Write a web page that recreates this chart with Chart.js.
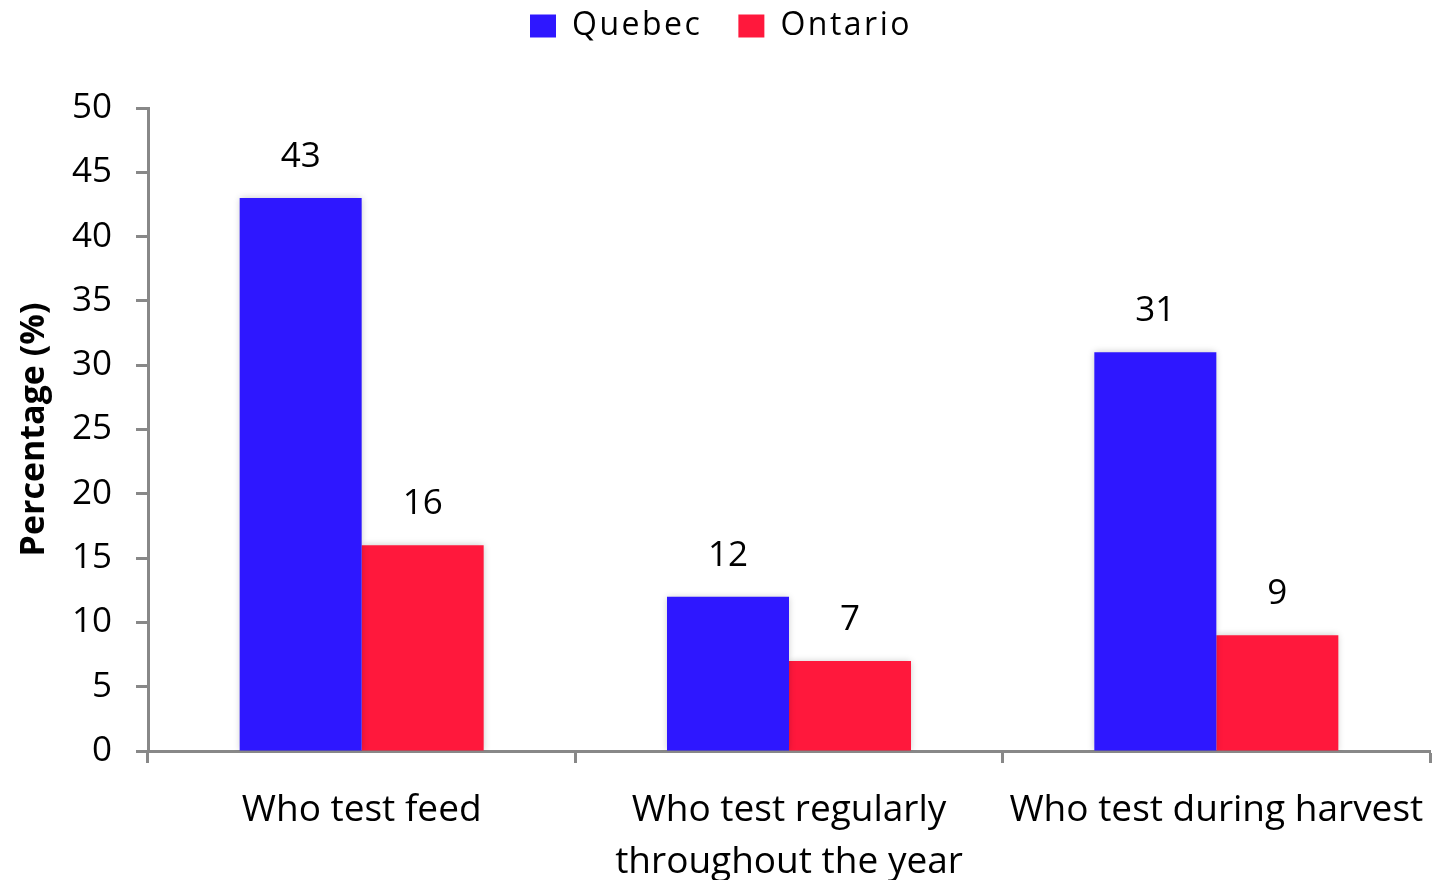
<!DOCTYPE html>
<html>
<head>
<meta charset="utf-8">
<script src="https://cdn.jsdelivr.net/npm/chart.js@4.4.0/dist/chart.umd.min.js"></script>
<style>
  html, body { margin: 0; padding: 0; background: #fff; }
  #wrap { width: 1435px; height: 880px; position: relative; }
</style>
</head>
<body>
<div id="wrap"><canvas id="c"></canvas></div>
<script>
const categories = [
  ["Who test feed"],
  ["Who test regularly", "throughout the year"],
  ["Who test during harvest"]
];
const quebecValues = [43, 12, 31];
const ontarioValues = [16, 7, 9];
const seriesNames = ["Quebec", "Ontario"];
const yTicks = [0, 5, 10, 15, 20, 25, 30, 35, 40, 45, 50];

const FONT = "'Open Sans', 'Liberation Sans', sans-serif";
const BLUE = '#2E17FF';
const RED = '#FF183C';
const AXIS = '#888888';

const shadowPlugin = {
  id: 'barShadow',
  beforeDatasetsDraw(chart) {
    const ctx = chart.ctx;
    ctx.save();
    ctx.shadowColor = 'rgba(0,0,0,0.22)';
    ctx.shadowBlur = 7;
    ctx.shadowOffsetX = 0;
    ctx.shadowOffsetY = 0;
  },
  afterDatasetsDraw(chart) {
    chart.ctx.restore();
  }
};

const valueLabels = {
  id: 'valueLabels',
  afterDraw(chart) {
    const ctx = chart.ctx;
    ctx.save();
    ctx.font = "35px " + FONT;
    ctx.fillStyle = '#000';
    ctx.textAlign = 'center';
    ctx.textBaseline = 'middle';
    chart.data.datasets.forEach((ds, i) => {
      const meta = chart.getDatasetMeta(i);
      meta.data.forEach((bar, j) => {
        ctx.fillText(String(ds.data[j]), bar.x, bar.y - 41);
      });
    });
    ctx.restore();
  }
};

const LEGEND_PAD = 36;

const chart = new Chart(document.getElementById('c'), {
  type: 'bar',
  data: {
    labels: categories,
    datasets: [
      { label: seriesNames[0], data: quebecValues, backgroundColor: BLUE, borderWidth: 0 },
      { label: seriesNames[1], data: ontarioValues, backgroundColor: RED, borderWidth: 0 }
    ]
  },
  options: {
    responsive: true,
    maintainAspectRatio: false,
    animation: false,
    categoryPercentage: 0.571,
    barPercentage: 1.0,
    layout: { padding: { top: 0, left: 0, right: 5, bottom: 0 } },
    plugins: {
      legend: {
        position: 'top',
        align: 'center',
        labels: {
          boxWidth: 26,
          boxHeight: 23,
          padding: LEGEND_PAD,
          color: '#000',
          font: { family: FONT, size: 32 }
        }
      },
      tooltip: { enabled: false }
    },
    scales: {
      x: {
        grid: {
          offset: true,
          drawOnChartArea: false,
          drawTicks: true,
          tickLength: 12,
          tickColor: AXIS,
          tickWidth: 3
        },
        border: { color: AXIS, width: 3 },
        ticks: {
          color: '#000',
          padding: 22,
          maxRotation: 0,
          autoSkip: false,
          font: { family: FONT, size: 37, lineHeight: 1.4 }
        },
        afterFit(scale) {
          scale.height = 129;
          scale.paddingLeft = 0;
          scale.paddingRight = 0;
        }
      },
      y: {
        min: 0,
        max: 50,
        afterBuildTicks(scale) { scale.ticks = yTicks.map(v => ({ value: v })); },
        grid: {
          drawOnChartArea: false,
          drawTicks: true,
          tickLength: 12,
          tickColor: AXIS,
          tickWidth: 3
        },
        border: { color: AXIS, width: 3 },
        ticks: {
          color: '#000',
          padding: 24,
          font: { family: FONT, size: 35 }
        },
        title: {
          display: true,
          text: 'Percentage (%)',
          color: '#000',
          font: { family: FONT, size: 34, weight: 'bold', lineHeight: 1 },
          padding: { top: 17, bottom: 0 }
        },
        afterFit(scale) { scale.width = 148; }
      }
    }
  },
  plugins: [shadowPlugin, valueLabels]
});

// legend block: fixed height, slight letter spacing, items raised to the top
const lg = chart.legend;
const origFit = lg.fit.bind(lg);
const origDraw = lg.draw.bind(lg);
lg.fit = function () {
  const ctx = this.ctx;
  ctx.letterSpacing = '2.5px';
  origFit();
  ctx.letterSpacing = '0px';
  this.height = 108;
};
lg.draw = function () {
  const ctx = this.ctx;
  ctx.save();
  ctx.letterSpacing = '2.5px';
  ctx.translate(6, 10 - LEGEND_PAD);
  origDraw();
  ctx.restore();
  ctx.letterSpacing = '0px';
};
chart.update();
</script>
</body>
</html>
